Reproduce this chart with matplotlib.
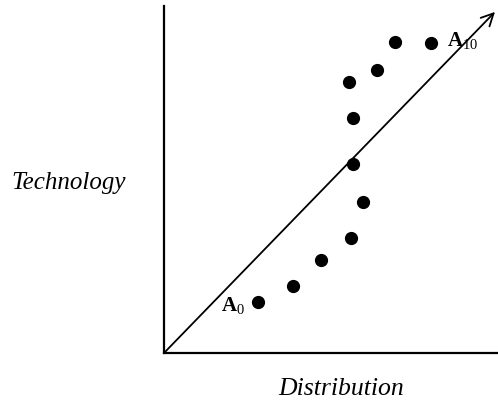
import matplotlib
matplotlib.use("Agg")
import matplotlib.pyplot as plt

plt.rcParams['mathtext.fontset'] = 'custom'
plt.rcParams['mathtext.rm'] = 'Liberation Serif'
plt.rcParams['mathtext.bf'] = 'Liberation Serif:bold'
plt.rcParams['mathtext.it'] = 'Liberation Serif:italic'

# Data (axis units 0..10)
dist_x = [2.81, 3.86, 4.70, 5.60, 5.96, 5.66, 5.66, 5.54, 6.38, 6.92, 7.99]
tech_y = [1.47, 1.93, 2.68, 3.31, 4.35, 5.45, 6.77, 7.81, 8.16, 8.96, 8.93]
arrow_end = (9.91, 9.83)
label_start = r'$\mathbf{A}_{0}$'
label_end = r'$\mathbf{A}_{10}$'
x_title = 'Distribution'
y_title = 'Technology'

fig = plt.figure(figsize=(4.98, 4.04), dpi=100)
ax = fig.add_axes([164/498, 1-353/404, (498-164)/498, (353-6)/404])
ax.set_xlim(0, 10)
ax.set_ylim(0, 10)
for s in ['top', 'right']:
    ax.spines[s].set_visible(False)
for s in ['left', 'bottom']:
    ax.spines[s].set_linewidth(1.6)
    ax.spines[s].set_color('black')
ax.set_xticks([])
ax.set_yticks([])

ax.annotate('', xy=arrow_end, xytext=(0, 0),
            arrowprops=dict(arrowstyle='->', lw=1.3, color='black',
                            mutation_scale=22, shrinkA=0, shrinkB=0))

ax.plot(dist_x, tech_y, 'o', color='black', markersize=8.5, clip_on=False)

ax.text(1.71, 1.21, label_start, fontsize=15, ha='left', va='baseline')
ax.text(8.47, 8.85, label_end, fontsize=15, ha='left', va='baseline')

fig.text(69/498, 1-183/404, y_title, fontsize=18, style='italic',
         family='Liberation Serif', ha='center', va='center')
fig.text(341/498, 1-389/404, x_title, fontsize=18.5, style='italic',
         family='Liberation Serif', ha='center', va='center')

fig.savefig('out.png', dpi=100)
